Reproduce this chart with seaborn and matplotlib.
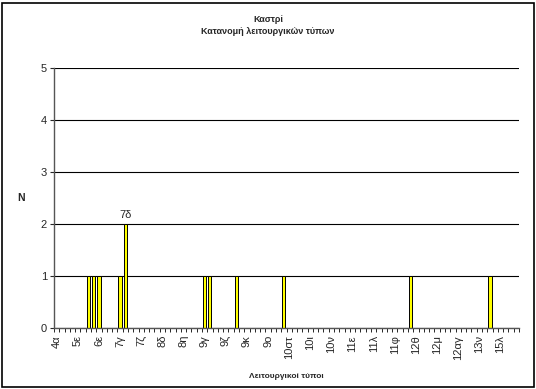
import numpy as np
import pandas as pd
import matplotlib
matplotlib.use('Agg')
import matplotlib.pyplot as plt
import seaborn as sns
from matplotlib.patches import Rectangle

sns.set_style('white')
plt.rcParams['font.family'] = ['Liberation Sans', 'DejaVu Sans']

# Data: functional types (every 4th is labelled on the axis) and counts
types = ['4α', '4β', '4γ', '4δ', '5ε', '5ζ', '5η', '5θ', '6ε', '6ζ', '6η', '7β',
         '7γ', '7δ', '7ε', '7στ', '7ζ', '7η', '7θ', '8γ', '8δ', '8ε', '8στ', '8ζ',
         '8η', '8θ', '9α', '9β', '9γ', '9δ', '9ε', '9στ', '9ζ', '9η', '9θ', '9ι',
         '9κ', '9λ', '9μ', '9ν', '9ο', '10γ', '10δ', '10ε', '10στ', '10ζ', '10η', '10θ',
         '10ι', '10κ', '10λ', '10μ', '10ν', '11β', '11γ', '11δ', '11ε', '11στ', '11θ', '11κ',
         '11λ', '11μ', '11π', '11σ', '11φ', '12ε', '12ζ', '12η', '12θ', '12ι', '12κ', '12λ',
         '12μ', '12ν', '12ο', '12ω', '12αγ', '13α', '13γ', '13μ', '13ν', '14α', '14γ', '15α',
         '15λ', '15μ', '16α', '16β']
counts = [0, 0, 0, 0, 0, 0, 1, 1, 1, 0, 0, 0,
          1, 2, 0, 0, 0, 0, 0, 0, 0, 0, 0, 0,
          0, 0, 0, 0, 1, 1, 0, 0, 0, 0, 1, 0,
          0, 0, 0, 0, 0, 0, 0, 1, 0, 0, 0, 0,
          0, 0, 0, 0, 0, 0, 0, 0, 0, 0, 0, 0,
          0, 0, 0, 0, 0, 0, 0, 1, 0, 0, 0, 0,
          0, 0, 0, 0, 0, 0, 0, 0, 0, 0, 1, 0,
          0, 0, 0, 0]

df = pd.DataFrame({'type': types, 'N': counts})

fig = plt.figure(figsize=(5.36, 3.89), dpi=100)
ax = fig.add_axes([54/536, 61/389, 465/536, 260/389])

sns.barplot(data=df, x='type', y='N', order=types, ax=ax, color='#FFFF00',
            saturation=1, width=0.6, edgecolor='black', linewidth=0.7)

ax.set_ylim(0, 5)
ax.set_xlim(-0.5, len(types) - 0.5)
ax.set_yticks(range(0, 6))
ax.tick_params(axis='y', labelsize=8, length=3, width=0.8, direction='out', left=True, pad=2)
ax.yaxis.grid(True, color='black', linewidth=0.8)
ax.set_axisbelow(True)

ax.set_xticks(range(0, len(types), 4))
ax.set_xticklabels(types[::4], rotation=90, fontsize=8)
ax.set_xticks(np.arange(-0.5, len(types), 1), minor=True)
ax.tick_params(axis='x', which='major', length=0, pad=5)
ax.tick_params(axis='x', which='minor', length=3, width=0.7, direction='out', bottom=True)

for s in ['top', 'right']:
    ax.spines[s].set_visible(False)
for s in ['left', 'bottom']:
    ax.spines[s].set_color('#555555')
    ax.spines[s].set_linewidth(1)

ax.set_xlabel('Λειτουργικοί τύποι', fontsize=6, fontweight='bold', labelpad=10)
ax.set_ylabel('N', fontsize=7.5, fontweight='bold', rotation=0, labelpad=14, va='center')

# label the tallest bar
imax = int(np.argmax(counts))
ax.annotate(types[imax], (imax, counts[imax]), xytext=(0, 3), textcoords='offset points',
            ha='center', va='bottom', fontsize=8)

fig.text(0.5, 1 - 19/389, 'Καστρί', ha='center', va='center', fontsize=6.5, fontweight='bold')
fig.text(0.5, 1 - 31/389, 'Κατανομή λειτουργικών τύπων', ha='center', va='center',
         fontsize=6.5, fontweight='bold')

fig.patches.append(Rectangle((2/536, 2/389), 532/536, 384/389, transform=fig.transFigure,
                             fill=False, edgecolor='black', linewidth=1.2))

plt.savefig('out.png', dpi=100)
